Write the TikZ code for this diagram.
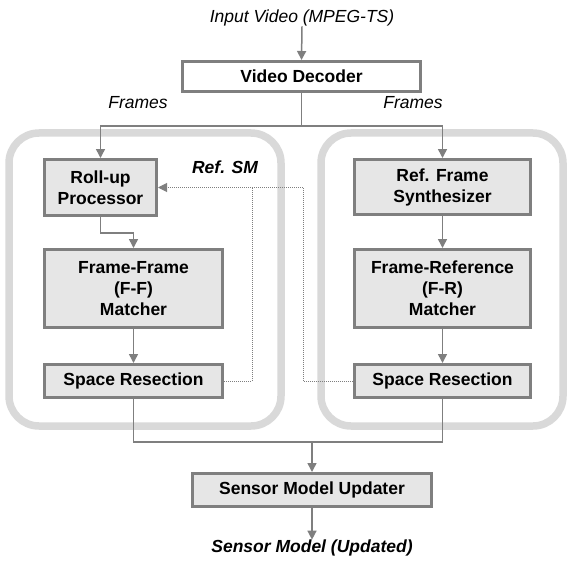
\documentclass[tikz,border=0pt]{standalone}
\usepackage{fontspec}
\setmainfont{Liberation Sans}
\usetikzlibrary{arrows.meta}
\definecolor{lineg}{HTML}{7F7F7F}
\definecolor{boxfill}{HTML}{E6E6E6}
\definecolor{contg}{HTML}{D9D9D9}
\tikzset{
  box/.style={draw=lineg, line width=3pt, fill=boxfill, align=center, inner sep=0pt,
    font=\fontsize{17.5}{21}\selectfont\bfseries},
  lbl/.style={inner sep=0pt, font=\fontsize{17.5}{21}\selectfont\itshape},
  blbl/.style={inner sep=0pt, font=\fontsize{17.5}{21}\selectfont\bfseries\itshape},
  conn/.style={draw=lineg, line width=1.5pt},
  arr/.style={conn, -{Triangle[width=9pt,length=9pt]}},
  dotl/.style={draw=lineg, line width=1pt, dash pattern=on 1pt off 1pt},
  dotarr/.style={dotl, -{Triangle[width=9pt,length=9pt,fill=lineg]}},
  cont/.style={draw=contg, line width=7.5pt, rounded corners=30pt},
}
\begin{document}
\begin{tikzpicture}[x=1pt,y=-1pt]
\useasboundingbox (0,0) rectangle (569,564);
% containers
\draw[cont] (9,133) rectangle (281,426);
\draw[cont] (321,133) rectangle (563,426);
% nodes
\node[lbl] (in) at (302,18) {Input Video (MPEG-TS)};
\node[box, fill=white, minimum width=238pt, minimum height=30pt] (dec) at (301.5,76.5) {Video Decoder};
\node[lbl] (fl) at (138,103) {Frames};
\node[lbl] (fr) at (413,103) {Frames};
\node[box, minimum width=112pt, minimum height=56pt] (roll) at (100.5,187.5) {Roll-up\\Processor};
\node[box, minimum width=178pt, minimum height=78pt] (ff) at (133.5,288.5) {Frame-Frame\\(F-F)\\Matcher};
\node[box, minimum width=178pt, minimum height=33pt] (srl) at (133.5,381) {Space Resection};
\node[box, minimum width=176pt, minimum height=55pt] (rfs) at (442.5,187) {Ref. Frame\\Synthesizer};
\node[box, minimum width=176pt, minimum height=78pt] (frm) at (442.5,288.5) {Frame-Reference\\(F-R)\\Matcher};
\node[box, minimum width=176pt, minimum height=33pt] (srr) at (442.5,381) {Space Resection};
\node[blbl] (refsm) at (225,167) {Ref. SM};
\node[box, minimum width=239pt, minimum height=33pt] (smu) at (312,490) {Sensor Model Updater};
\node[blbl] (out) at (312,548) {Sensor Model (Updated)};
% coordinates
\coordinate (split) at (301.5,126);
\coordinate (jl) at (252,187.5);
\coordinate (jr) at (303,187.5);
\coordinate (jb) at (312,442);
% connectors
\draw[arr] (in.south) -- (dec.north);
\draw[conn] (dec.south) -- (split);
\draw[arr] (split) -| (roll.north);
\draw[arr] (split) -| (rfs.north);
\draw[arr] (roll.south) -- ++(0,16) -| (ff.north);
\draw[arr] (ff.south) -- (srl.north);
\draw[arr] (rfs.south) -- (frm.north);
\draw[arr] (frm.south) -- (srr.north);
\draw[dotl] (srl.east) -| (jl);
\draw[dotarr] (srr.west) -| (jr) -- (roll.east);
\draw[conn] (srl.south) |- (jb);
\draw[conn] (srr.south) |- (jb);
\draw[arr] (jb) -- (smu.north);
\draw[arr] (smu.south) -- (out.north);
\end{tikzpicture}
\end{document}
